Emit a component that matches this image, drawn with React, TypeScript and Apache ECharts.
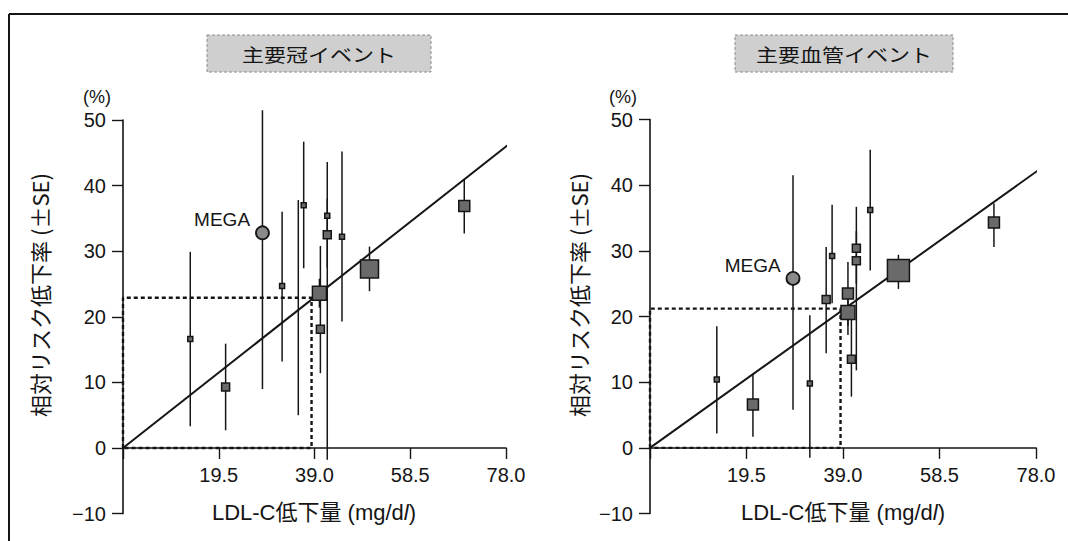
import React, { useEffect, useRef } from "react";
import * as echarts from "echarts";

// ---------- data ----------
const xTickValues = [0, 19.5, 39.0, 58.5, 78.0];
const yTickValues = [-10, 0, 10, 20, 30, 40, 50];

// 主要冠イベント (left)
const coronaryLdl = [13.7, 20.9, 32.4, 35.7, 36.8, 40.0, 40.2, 41.6, 41.6, 44.6, 50.2, 69.5];
const coronaryRrr = [16.6, 9.3, 24.7, 20.8, 37.0, 23.6, 18.1, 35.4, 32.5, 32.2, 27.3, 36.9];
const coronaryLo = [3.3, 2.7, 13.2, 5.0, 27.4, 21.4, 11.4, 27.5, -1.8, 19.3, 23.9, 32.7];
const coronaryHi = [29.9, 15.9, 36.0, 37.8, 46.7, 25.8, 30.8, 43.6, 38.0, 45.2, 30.7, 40.9];
const coronaryWeight = [1, 2, 1, 0, 1, 4, 2, 1, 2, 1, 5, 3];
const coronaryMega = [28.4, 32.8, 9.0, 51.5];
const coronaryFitEnd = [78.4, 46.2];
const coronaryRef = [38.4, 22.9];

// 主要血管イベント (right)
const vascularLdl = [13.5, 20.8, 32.3, 35.6, 36.8, 40.0, 40.0, 40.7, 41.7, 41.7, 44.5, 50.2, 69.5];
const vascularRrr = [10.4, 6.6, 9.8, 22.6, 29.2, 23.5, 20.6, 13.5, 30.4, 28.5, 36.2, 27.0, 34.3];
const vascularLo = [2.2, 1.7, -1.5, 14.4, 22.0, 17.2, 18.6, 7.8, 25.0, 11.8, 27.0, 24.2, 30.6];
const vascularHi = [18.5, 11.3, 20.2, 30.6, 37.0, 28.3, 22.6, 19.5, 36.7, 33.0, 45.4, 29.4, 37.2];
const vascularWeight = [1, 3, 1, 2, 1, 3, 4, 2, 2, 2, 1, 6, 3];
const vascularMega = [28.9, 25.8, 5.8, 41.5];
const vascularFitEnd = [78.5, 42.3];
const vascularRef = [38.5, 21.2];

const panelTitles = ["主要冠イベント", "主要血管イベント"];
const yName = "相対リスク低下率 (±SE)";

// ---------- styles ----------
const SANS = "'Liberation Sans','Noto Sans CJK JP',sans-serif";
const CJK = "'Noto Sans CJK JP','Liberation Sans',sans-serif";
const INK = "#151515";
const SIZE_BY_WEIGHT = [0, 5, 8, 11, 14, 18, 22];

const GRIDS = [
  { left: 123, top: 120, right: 506, bottom: 513.6 },
  { left: 650, top: 119.5, right: 1036, bottom: 513.5 },
];

function axesFor(gridIndex: number) {
  const g = GRIDS[gridIndex];
  const yMin = yTickValues[0];
  const yMax = yTickValues[yTickValues.length - 1];
  const zeroShift = ((0 - yMin) / (yMax - yMin)) * (g.bottom - g.top);
  const xAxis = {
    gridIndex,
    type: "value",
    min: xTickValues[0],
    max: xTickValues[xTickValues.length - 1],
    interval: xTickValues[1] - xTickValues[0],
    position: "bottom",
    offset: -zeroShift,
    axisLine: { show: true, onZero: false, lineStyle: { color: INK, width: 1.6 } },
    axisTick: { show: true, inside: false, length: 11, lineStyle: { color: INK, width: 1.4 } },
    axisLabel: {
      margin: 17,
      fontSize: 20,
      fontFamily: SANS,
      color: INK,
      formatter: (v: number) => (v === 0 ? "" : v.toFixed(1)),
    },
    splitLine: { show: false },
  };
  const yAxis = {
    gridIndex,
    type: "value",
    min: yMin,
    max: yMax,
    interval: yTickValues[1] - yTickValues[0],
    axisLine: { show: true, onZero: false, lineStyle: { color: INK, width: 1.6 } },
    axisTick: { show: true, inside: false, length: 11, lineStyle: { color: INK, width: 1.4 } },
    axisLabel: {
      margin: 17,
      fontSize: 20,
      fontFamily: SANS,
      color: INK,
      formatter: (v: number) => (v < 0 ? "\u2212" + Math.abs(v) : String(v)),
    },
    splitLine: { show: false },
  };
  return { xAxis, yAxis };
}

function seriesFor(
  idx: number,
  ldl: number[],
  rrr: number[],
  lo: number[],
  hi: number[],
  weight: number[],
  mega: number[],
  fitEnd: number[],
  ref: number[]
) {
  const barData = ldl.map((x, i) => [x, lo[i], hi[i]]);
  barData.push([mega[0], mega[2], mega[3]]);
  const pts = ldl.map((x, i) => ({
    value: [x, rrr[i]],
    symbolSize: SIZE_BY_WEIGHT[weight[i]],
  }));
  return [
    {
      type: "line",
      xAxisIndex: idx,
      yAxisIndex: idx,
      data: [[0, 0], [0, ref[1]], [ref[0], ref[1]], [ref[0], 0], [0, 0]],
      symbol: "none",
      lineStyle: { color: INK, width: 2.4, type: [4, 3] },
      z: 3,
      silent: true,
    },
    {
      type: "line",
      xAxisIndex: idx,
      yAxisIndex: idx,
      data: [[0, 0], fitEnd],
      symbol: "none",
      clip: false,
      lineStyle: { color: INK, width: 2 },
      z: 4,
      silent: true,
    },
    {
      type: "custom",
      xAxisIndex: idx,
      yAxisIndex: idx,
      data: barData,
      encode: { x: 0, y: [1, 2] },
      z: 5,
      renderItem: (_p: any, api: any) => {
        const a = api.coord([api.value(0), api.value(1)]);
        const b = api.coord([api.value(0), api.value(2)]);
        return {
          type: "line",
          shape: { x1: a[0], y1: a[1], x2: b[0], y2: b[1] },
          style: { stroke: INK, lineWidth: 1.5 },
        };
      },
    },
    {
      type: "scatter",
      xAxisIndex: idx,
      yAxisIndex: idx,
      data: pts,
      symbol: "rect",
      itemStyle: { color: "#6a6a6a", borderColor: INK, borderWidth: 1.5, opacity: 1 },
      z: 6,
    },
    {
      type: "scatter",
      xAxisIndex: idx,
      yAxisIndex: idx,
      data: [[mega[0], mega[1]]],
      symbol: "circle",
      symbolSize: 13,
      itemStyle: { color: "#8a8a8a", borderColor: INK, borderWidth: 1.8, opacity: 1 },
      label: {
        show: true,
        formatter: "MEGA",
        position: "left",
        distance: 5,
        offset: [0, -13],
        fontSize: 19,
        fontFamily: SANS,
        color: INK,
      },
      z: 7,
    },
  ];
}

function titleBox(cx: number, x0: number, x1: number, text: string) {
  return [
    {
      type: "rect",
      shape: { x: x0, y: 35, width: x1 - x0, height: 37 },
      style: { fill: "#cfcfcf", stroke: "#8a8a8a", lineWidth: 1, lineDash: [3, 2] },
      z: 1,
    },
    {
      type: "text",
      x: cx,
      y: 54,
      scaleY: 0.85,
      style: {
        text,
        fontSize: 22,
        fontFamily: CJK,
        fill: INK,
        align: "center",
        verticalAlign: "middle",
      },
      z: 2,
    },
  ];
}

function sideTexts(yTitleX: number, pctX: number, xNameX: number) {
  return [
    {
      type: "text",
      x: yTitleX,
      y: 295,
      rotation: Math.PI / 2,
      style: {
        text: yName,
        fontSize: 22,
        fontFamily: CJK,
        fill: INK,
        align: "center",
        verticalAlign: "middle",
      },
    },
    {
      type: "text",
      x: pctX,
      y: 97,
      style: {
        text: "(%)",
        fontSize: 18,
        fontFamily: SANS,
        fill: INK,
        align: "center",
        verticalAlign: "middle",
      },
    },
    {
      type: "text",
      x: xNameX,
      y: 512,
      style: {
        text: "LDL-C低下量 (mg/d{i|l})",
        rich: { i: { fontStyle: "italic", fontSize: 22, fontFamily: SANS, fill: INK } },
        fontSize: 22,
        fontFamily: SANS,
        fill: INK,
        align: "center",
        verticalAlign: "middle",
      },
    },
  ];
}

export default function App() {
  const ref = useRef<HTMLDivElement>(null);
  useEffect(() => {
    if (!ref.current) return;
    const chart = echarts.init(ref.current, undefined, { renderer: "svg" });
    const a0 = axesFor(0);
    const a1 = axesFor(1);
    chart.setOption({
      animation: false,
      backgroundColor: "#ffffff",
      grid: GRIDS.map((g) => ({
        left: g.left,
        right: 1068 - g.right,
        top: g.top,
        bottom: 541 - g.bottom,
      })),
      xAxis: [a0.xAxis, a1.xAxis],
      yAxis: [a0.yAxis, a1.yAxis],
      series: [
        ...seriesFor(0, coronaryLdl, coronaryRrr, coronaryLo, coronaryHi, coronaryWeight, coronaryMega, coronaryFitEnd, coronaryRef),
        ...seriesFor(1, vascularLdl, vascularRrr, vascularLo, vascularHi, vascularWeight, vascularMega, vascularFitEnd, vascularRef),
      ],
      graphic: [
        { type: "line", shape: { x1: 9, y1: 14, x2: 1068, y2: 14 }, style: { stroke: INK, lineWidth: 2 } },
        { type: "line", shape: { x1: 9, y1: 14, x2: 9, y2: 541 }, style: { stroke: INK, lineWidth: 2 } },
        ...titleBox(319, 207, 431, panelTitles[0]),
        ...titleBox(844, 735, 953, panelTitles[1]),
        ...sideTexts(39, 97, 314),
        ...sideTexts(578, 623, 843),
      ],
    });
    return () => chart.dispose();
  }, []);
  return (
    <div
      ref={ref}
      style={{ position: "absolute", left: 0, top: 0, width: 1068, height: 541, background: "#fff" }}
    />
  );
}
